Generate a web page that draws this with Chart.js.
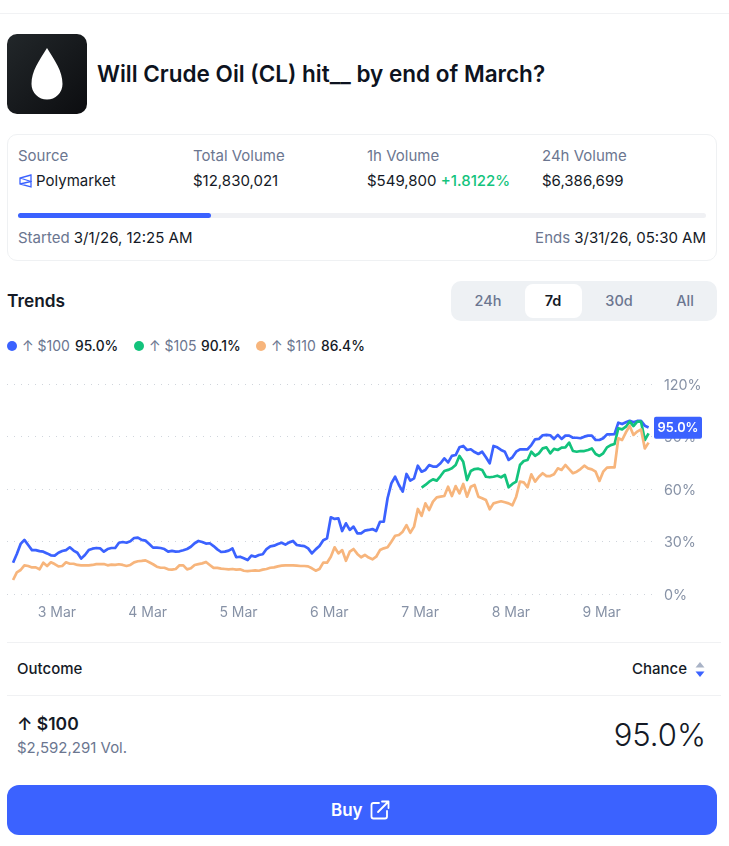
<!DOCTYPE html>
<html>
<head>
<meta charset="utf-8">
<title>Crude Oil</title>
<script src="https://cdn.jsdelivr.net/npm/chart.js@4"></script>
<style>
  html, body { margin: 0; padding: 0; background: #fff; }
  body { width: 729px; height: 846px; position: relative; overflow: hidden; font-family: Inter, sans-serif; color: #141a26; }
  .t { position: absolute; white-space: nowrap; line-height: 20px; transform: translateY(-50%); }
  .box { position: absolute; }
  .muted { color: #6b7690; }
  .num { font-weight: 500; }
  .dot { position: absolute; width: 10px; height: 10px; border-radius: 50%; top: 341px; }
  #chartWrap { position: absolute; left: 0; top: 370px; width: 729px; height: 260px; }
</style>
</head>
<body>
<div class="box" style="left:0;top:13px;width:729px;height:1px;background:#f1f2f4"></div>

<!-- cabecera -->
<div class="box" style="left:7px;top:34px;width:80px;height:80px;border-radius:10px;background:linear-gradient(135deg,#22272a,#0c0d10)">
  <svg width="80" height="80" viewBox="0 0 80 80"><path d="M40 14 C48 27 55.5 37 55.5 50 A15.5 15.5 0 0 1 24.5 50 C24.5 37 32 27 40 14 Z" fill="#fff"/></svg>
</div>
<div class="t" style="left:97px;top:74px;font-size:22.5px;font-weight:600;line-height:28px;color:#0d1320">Will Crude Oil (CL) hit__ by end of March?</div>

<!-- tarjeta de volumen -->
<div class="box" style="left:7px;top:134px;width:708px;height:125px;border:1px solid #eff1f3;border-radius:10px"></div>
<div class="t muted" style="left:18px;top:156px;font-size:15px">Source</div>
<div class="t muted" style="left:193px;top:156px;font-size:15px">Total Volume</div>
<div class="t muted" style="left:367px;top:156px;font-size:15px">1h Volume</div>
<div class="t muted" style="left:542px;top:156px;font-size:15px">24h Volume</div>
<svg class="box" style="left:19px;top:174px" width="13" height="14" viewBox="0 0 13 14" fill="none" stroke="#3b62ff" stroke-width="1.3"><path d="M12 1 L1 4 L1 10 L12 13 Z M1 4 L12 7.5 L1 10 M12 1 L12 13"/></svg>
<div class="t" style="left:36px;top:181px;font-size:15px">Polymarket</div>
<div class="t" style="left:193px;top:181px;font-size:15px">$12,830,021</div>
<div class="t" style="left:367px;top:181px;font-size:15px">$549,800 <span style="color:#13c37c;font-weight:500">+1.8122%</span></div>
<div class="t" style="left:542px;top:181px;font-size:15px">$6,386,699</div>
<div class="box" style="left:18px;top:213px;width:688px;height:5px;border-radius:3px;background:#f0f1f4"></div>
<div class="box" style="left:18px;top:213px;width:193px;height:5px;border-radius:3px;background:#3b62ff"></div>
<div class="t" style="left:18px;top:238px;font-size:15px"><span class="muted">Started</span> 3/1/26, 12:25 AM</div>
<div class="t" style="right:23px;top:238px;font-size:15px"><span class="muted">Ends</span> 3/31/26, 05:30 AM</div>

<!-- selector de rango -->
<div class="t" style="left:7px;top:301px;font-size:17.3px;font-weight:600">Trends</div>
<div class="box" style="left:451px;top:281px;width:266px;height:40px;border-radius:10px;background:#eef1f4"></div>
<div class="box" style="left:525px;top:284px;width:57px;height:34px;border-radius:8px;background:#fff"></div>
<div class="t muted" style="left:488px;top:301px;font-size:14.5px;font-weight:500;transform:translate(-50%,-50%)">24h</div>
<div class="t" style="left:553px;top:301px;font-size:14.5px;font-weight:600;transform:translate(-50%,-50%)">7d</div>
<div class="t muted" style="left:619px;top:301px;font-size:14.5px;font-weight:500;transform:translate(-50%,-50%)">30d</div>
<div class="t muted" style="left:685px;top:301px;font-size:14.5px;font-weight:500;transform:translate(-50%,-50%)">All</div>

<!-- leyenda -->
<div class="dot" style="left:7px;background:#3b62ff"></div>
<div class="t muted" style="left:22px;top:346px;font-size:14px">↑ $100</div>
<div class="t num" style="left:75px;top:346px;font-size:13.8px">95.0%</div>
<div class="dot" style="left:134px;background:#13c37c"></div>
<div class="t muted" style="left:149px;top:346px;font-size:14px">↑ $105</div>
<div class="t num" style="left:201px;top:346px;font-size:13.8px">90.1%</div>
<div class="dot" style="left:256px;background:#f7b57c"></div>
<div class="t muted" style="left:271px;top:346px;font-size:14px">↑ $110</div>
<div class="t num" style="left:321px;top:346px;font-size:13.8px">86.4%</div>

<div id="chartWrap"><canvas id="trendChart" width="729" height="260"></canvas></div>

<!-- tabla -->
<div class="box" style="left:7px;top:642px;width:714px;height:1px;background:#f0f1f3"></div>
<div class="t" style="left:17px;top:669px;font-size:15px;font-weight:500">Outcome</div>
<div class="t" style="right:42px;top:669px;font-size:15px;font-weight:500">Chance</div>
<svg class="box" style="left:694px;top:661px" width="12" height="17" viewBox="0 0 12 17"><path d="M6 1 L10.5 6.5 L1.5 6.5 Z" fill="#a9b3c6"/><path d="M6 16 L10.5 10.5 L1.5 10.5 Z" fill="#3b62ff"/></svg>
<div class="box" style="left:7px;top:695px;width:714px;height:1px;background:#f0f1f3"></div>
<div class="t" style="left:17px;top:724px;font-size:17.5px;font-weight:600">↑ $100</div>
<div class="t muted" style="left:17px;top:748px;font-size:15px">$2,592,291 Vol.</div>
<div class="t" style="right:23px;top:735px;font-size:31px;line-height:40px;font-weight:300">95.0%</div>
<div class="box" style="left:7px;top:785px;width:710px;height:50px;border-radius:12px;background:#3b62ff"></div>
<div class="t" style="left:331px;top:810px;font-size:17px;font-weight:600;color:#fff">Buy</div>
<svg class="box" style="left:370px;top:800px" width="20" height="20" viewBox="0 0 20 20" fill="none" stroke="#fff" stroke-width="1.8" stroke-linecap="round" stroke-linejoin="round"><path d="M9 3 L3.5 3 Q1.5 3 1.5 5 L1.5 16.5 Q1.5 18.5 3.5 18.5 L15 18.5 Q17 18.5 17 16.5 L17 11 M8 12 L18.5 1.5 M12 1.5 L18.5 1.5 L18.5 8"/></svg>

<script>
// Datos (una muestra por hora)
const startHour = -11.6; // horas respecto a 3 Mar 00:00
const greenOffset = 108; // $105 empieza mas tarde

const tickHours = [0, 24, 48, 72, 96, 120, 144];
const tickLabels = ['3 Mar', '4 Mar', '5 Mar', '6 Mar', '7 Mar', '8 Mar', '9 Mar'];
const yTicks = [0, 30, 60, 90, 120];

const blue100 = [
  17.9, 22.9, 28.6, 30.9, 28, 25.1, 25.1, 24.5, 24.2, 23.2,
  22.1, 21.9, 23.6, 24.6, 25.1, 26.7, 24.8, 23.6, 20.2, 22.3,
  25.1, 25.9, 26.3, 26.1, 24.2, 25.7, 26.3, 26.3, 29.3, 29.7,
  29.3, 30.1, 32, 32.2, 30.9, 30.5, 28.6, 26.5, 26.5, 26.3,
  25.7, 24.2, 24.6, 24.2, 24.4, 25, 25.7, 27, 29, 30.3,
  29.7, 28.8, 29, 27.4, 25.5, 24, 24.2, 24.8, 26, 21,
  21.3, 20.4, 19.4, 21.9, 21.3, 22.3, 22.7, 25.7, 27.2, 27.6,
  28.6, 29.3, 28.2, 29.5, 30.3, 28, 27.6, 27.4, 26.1, 23.2,
  25.5, 27.4, 30.7, 31.8, 43.8, 42.9, 43.2, 36, 40.4, 36.6,
  38.5, 34.7, 34.7, 36.2, 36.6, 37.1, 36, 41.3, 41.3, 54.7,
  63.2, 67, 62.3, 58.5, 68.6, 64.8, 66.1, 73.3, 69.9, 70.9,
  73.7, 72.8, 72.8, 74.7, 77.5, 75.2, 78.9, 79.4, 83.8, 84.6,
  82.3, 82.7, 81.1, 80, 81.3, 78.1, 74.7, 84.6, 83.8, 82.3,
  81.3, 76.6, 78.1, 81.3, 82.7, 82.7, 82.7, 85.1, 88.4, 88.6,
  90.7, 90.9, 90.7, 88.6, 90.9, 88.6, 90.5, 90.5, 89.3, 89.3,
  89, 89.9, 90.5, 90.5, 88, 88, 89, 91.2, 91.2, 91.4,
  97.9, 97.1, 98.1, 99, 98.1, 98.9, 98.9, 96.2, 95.2
];

const green105 = [
  60.8, 62.3, 64.2, 65.5, 64.8, 67.4, 70.3, 70.9, 71.8, 73.7,
  78.9, 75.6, 65.1, 70.3, 71.4, 71.6, 70.9, 67, 66.7, 67,
  67.6, 66.7, 68, 61, 62.9, 64.2, 73.7, 76, 76.6, 81.3,
  79, 80.4, 83.2, 83.8, 80.4, 82.9, 82.3, 83.6, 83.8, 86.5,
  81.7, 81.3, 81.7, 81.7, 82.3, 83.2, 80, 78.9, 80.4, 83.8,
  85.1, 85.7, 94.7, 94.1, 95.6, 98.5, 96, 98.5, 98.5, 88,
  91.8
];

const orange110 = [
  8, 12.4, 13.7, 16.4, 16, 15.2, 15.2, 14.1, 17.9, 16,
  18.1, 17.1, 15.8, 16, 18.1, 17.3, 17.3, 16.6, 16.4, 16.4,
  16.4, 16.6, 17.1, 17.1, 17.1, 16.4, 16.8, 16.6, 17, 16.6,
  16, 16.6, 18.1, 18.7, 18.9, 19.2, 18.1, 17, 15.6, 15,
  15, 14.1, 13.9, 14.3, 16.4, 16.4, 14.1, 14.7, 16.6, 17.1,
  17.5, 18.3, 16.6, 14.9, 14.9, 14.5, 14.3, 14.1, 14.3, 13.9,
  14.1, 13.3, 13.1, 13.3, 13.5, 13.3, 13.9, 14.3, 15, 15.2,
  15.8, 16.2, 16.4, 16.4, 16.4, 16.2, 16, 16, 15.8, 14.7,
  13.3, 14.3, 17.9, 17.9, 21.3, 26.7, 23.2, 25.1, 19, 24.2,
  25.7, 22.9, 21, 22.3, 20.8, 19.8, 21.3, 25.1, 26.1, 26.7,
  29.9, 33.3, 33.7, 35.6, 39.4, 35, 38.5, 48.6, 44.6, 51.8,
  48, 52.8, 55.2, 55.6, 56, 61.3, 56, 61.7, 57.5, 62.9,
  55.6, 61.3, 62.3, 55.6, 54.7, 53.7, 48.4, 51.8, 52.4, 53,
  52.4, 51.8, 50.7, 55.6, 64.2, 63.8, 61, 68.4, 64.2, 67,
  69, 67.4, 67.4, 68.4, 71.8, 70.9, 73.7, 71.4, 69, 69.9,
  71.4, 73.3, 71.8, 71.2, 69.9, 64.6, 69.9, 72.2, 72.4, 72.4,
  89, 88, 92.4, 96, 90.9, 92.8, 94.1, 83.2, 86.5
];

const badgeText = '95.0%';
const badgeValue = 95;

function aPuntos(valores, offset) {
    return valores.map((v, i) => ({ x: startHour + offset + i, y: v }));
}

// Etiqueta azul sobre el ultimo valor
const badgePlugin = {
    id: 'badge',
    afterDraw(chart) {
        const ctx = chart.ctx;
        const y = chart.scales.y.getPixelForValue(badgeValue);
        ctx.save();
        ctx.fillStyle = '#3b62ff';
        ctx.beginPath();
        ctx.roundRect(654, y - 11, 48, 22, 2);
        ctx.fill();
        ctx.fillStyle = '#fff';
        ctx.font = '600 12.8px Inter';
        ctx.textAlign = 'center';
        ctx.textBaseline = 'middle';
        ctx.fillText(badgeText, 678, y + 0.5);
        ctx.restore();
    }
};

new Chart(document.getElementById('trendChart'), {
    type: 'line',
    data: {
        datasets: [
            { label: '$100', data: aPuntos(blue100, 0), borderColor: '#3b62ff', order: 2 },
            { label: '$105', data: aPuntos(green105, greenOffset), borderColor: '#13c37c', order: 1 },
            { label: '$110', data: aPuntos(orange110, 0), borderColor: '#f7b57c', order: 0 }
        ]
    },
    options: {
        responsive: false,
        animation: false,
        layout: { padding: { left: 7, top: 14, right: 0, bottom: 0 } },
        elements: {
            point: { radius: 0 },
            line: { borderWidth: 2.7, tension: 0, borderJoinStyle: 'round' }
        },
        plugins: { legend: { display: false }, tooltip: { enabled: false } },
        scales: {
            x: {
                type: 'linear',
                min: -13.2,
                max: 157.3,
                grid: { display: false },
                border: { display: false },
                afterBuildTicks(axis) { axis.ticks = tickHours.map(v => ({ value: v })); },
                afterFit(axis) { axis.height = 36; axis.paddingLeft = 0; axis.paddingRight = 0; },
                ticks: {
                    color: '#8792a6',
                    font: { family: 'Inter', size: 14 },
                    padding: 2,
                    maxRotation: 0,
                    autoSkip: false,
                    callback: v => tickLabels[tickHours.indexOf(v)]
                }
            },
            y: {
                position: 'right',
                min: 0,
                max: 120,
                grid: { color: '#d0d5dc', drawTicks: false, lineWidth: 1 },
                border: { display: false, dash: [1, 6] },
                afterBuildTicks(axis) { axis.ticks = yTicks.map(v => ({ value: v })); },
                afterFit(axis) { axis.width = 77; axis.paddingTop = 0; axis.paddingBottom = 0; },
                ticks: {
                    color: '#8792a6',
                    font: { family: 'Inter', size: 14.3 },
                    padding: 12,
                    labelOffset: 1.5,
                    callback: v => v + '%'
                }
            }
        }
    },
    plugins: [badgePlugin]
});
</script>
</body>
</html>
